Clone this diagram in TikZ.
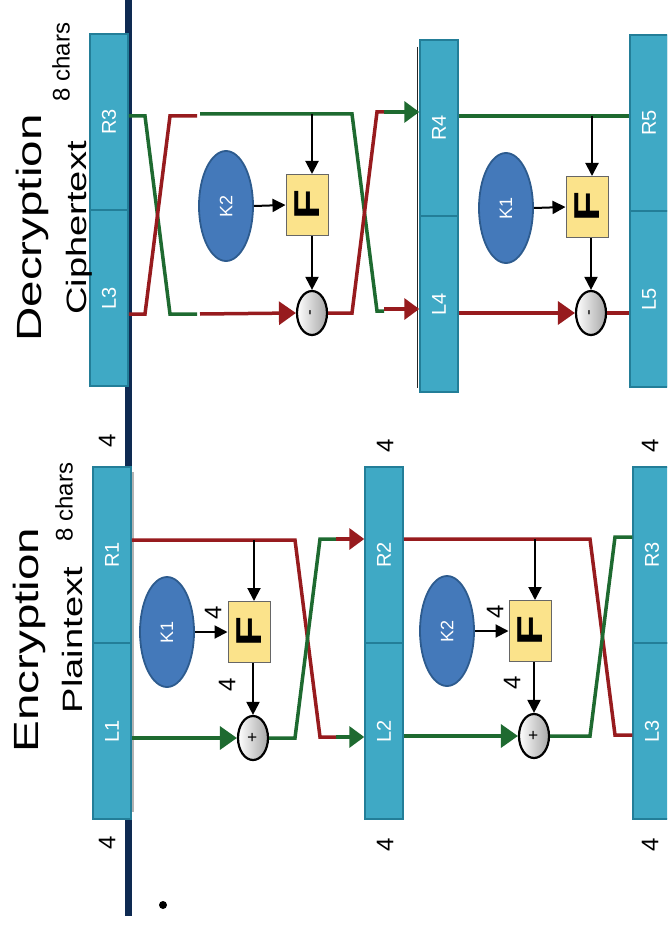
\documentclass[tikz,border=0pt]{standalone}
\usepackage{fontspec}
\setmainfont{Liberation Sans}
\usetikzlibrary{arrows.meta,shapes.geometric}

\definecolor{boxfill}{HTML}{3FA9C5}
\definecolor{boxedge}{HTML}{237E98}
\definecolor{keyfill}{HTML}{4479BA}
\definecolor{keyedge}{HTML}{2D5B8E}
\definecolor{fyellow}{HTML}{FBE38B}
\definecolor{fred}{HTML}{971B1E}
\definecolor{fgreen}{HTML}{1E6A30}
\definecolor{navy}{HTML}{0E2A52}

\newcommand{\rottxt}[1]{\rotatebox{90}{#1}}
\newcommand{\rotwide}[1]{\rotatebox{90}{\scalebox{1.36}[1]{#1}}}

\begin{document}
\begin{tikzpicture}[x=1pt,y=-1pt]
   \tikzstyle{half}=[draw=boxedge,fill=boxfill,line width=1.5pt,minimum width=38pt,minimum height=176pt,inner sep=0pt,text=white,font=\fontsize{20}{23}\selectfont]
   \tikzstyle{key}=[ellipse,draw=keyedge,fill=keyfill,line width=1.8pt,minimum width=54pt,minimum height=110pt,inner sep=0pt,text=white,font=\fontsize{18}{21}\selectfont]
   \tikzstyle{fbox}=[draw=black!60,fill=fyellow,line width=1pt,minimum width=42pt,minimum height=61pt,inner sep=0pt,font=\fontsize{36}{40}\selectfont\bfseries]
   \tikzstyle{mix}=[ellipse,draw=black,line width=2.2pt,minimum width=30pt,minimum height=44pt,inner sep=0pt,left color=white,right color=black!35,font=\fontsize{17}{19}\selectfont]
   \tikzstyle{num}=[inner sep=0pt,font=\fontsize{24}{28}\selectfont]
   \tikzstyle{rd}=[draw=fred,line width=3.5pt]
   \tikzstyle{grn}=[draw=fgreen,line width=3.5pt]
   \tikzstyle{into}=[-{Triangle[length=15pt,width=21pt]}]
   \tikzstyle{tocirc}=[-{Triangle[length=17pt,width=23pt]}]
   \tikzstyle{blk}=[draw=black,line width=2pt,-{Triangle[length=13pt,width=13pt]}]

   \clip (0,0) rectangle (667,925);
   \fill[white] (0,0) rectangle (667,925);

   % slide separator and bullet
   \draw[navy,line width=7pt] (128,0) -- (128,916);
   \fill (163,905) circle[radius=4];

   % blocks
   \node[half] (r3d) at (109,122) {\rottxt{R3}};
   \node[half] (l3d) at (109,298) {\rottxt{L3}};
   \draw[black!85,line width=0.8pt] (417,47) -- (417,388);
   \node[half] (r4) at (439,128) {\rottxt{R4}};
   \node[half] (l4) at (439,304) {\rottxt{L4}};
   \node[half] (r5) at (649,123) {\rottxt{R5}};
   \node[half] (l5) at (649,299) {\rottxt{L5}};
   \fill[black!30] (131,472) rectangle (134,812);
   \node[half] (r1) at (112,555) {\rottxt{R1}};
   \node[half] (l1) at (112,731) {\rottxt{L1}};
   \node[half] (r2) at (384,555) {\rottxt{R2}};
   \node[half] (l2) at (384,731) {\rottxt{L2}};
   \node[half] (r3e) at (652,555) {\rottxt{R3}};
   \node[half] (l3e) at (652,731) {\rottxt{L3}};

   % headings
   \node[inner sep=0pt,font=\fontsize{35}{40}\selectfont] (dectitle) at (32,228) {\rotwide{Decryption}};
   \node[inner sep=0pt,font=\fontsize{28}{32}\selectfont] (ciph) at (79,228) {\rotwide{Ciphertext}};
   \node[num] (dchars) at (61,62) {\rottxt{8 chars}};
   \node[inner sep=0pt,font=\fontsize{35}{40}\selectfont] (enctitle) at (29,640) {\rotwide{Encryption}};
   \node[inner sep=0pt,font=\fontsize{28}{32}\selectfont] (plain) at (72,640) {\rotwide{Plaintext}};
   \node[num] (echars) at (64,502) {\rottxt{8 chars}};

   % sizes
   \node[num] (s1) at (107,441) {\rottxt{4}};
   \node[num] (s2) at (107,843) {\rottxt{4}};
   \node[num] (s3) at (385,446) {\rottxt{4}};
   \node[num] (s4) at (385,845) {\rottxt{4}};
   \node[num] (s5) at (650,446) {\rottxt{4}};
   \node[num] (s6) at (650,845) {\rottxt{4}};

   % decryption, round with K2
   \node[key] (k2d) at (226,206) {\rottxt{K2}};
   \node[fbox] (fd1) at (307,205) {\rotwide{F}};
   \node[mix] (md1) at (312,313) {\rottxt{-}};
   \coordinate (d1t) at (312,114);
   \draw[grn] (r3d.east |- 0,116) -- (145,116) -- (170,314) -- (197,314);
   \draw[rd] (l3d.east |- 0,314) -- (145,314) -- (170,116) -- (197,116);
   \draw[grn] (200,114) -- (352,114) -- (377,311) -- (384,311);
   \draw[rd,tocirc] (200,314) -- (md1.west);
   \draw[rd] (md1.east) -- (352,313) -- (377,112) -- (384,112);
   \draw[grn,into] (384,112) -- (r4.west |- 0,112);
   \draw[rd,into] (384,309) -- (l4.west |- 0,309);
   \draw[blk] (d1t) -- (d1t |- fd1.north);
   \draw[blk] (k2d.east) -- (fd1.west);
   \draw[blk] (fd1.south -| md1) -- (md1.north);

   % decryption, round with K1
   \node[key] (k1d) at (506,208) {\rottxt{K1}};
   \node[fbox] (fd2) at (587,207) {\rotwide{F}};
   \node[mix] (md2) at (591,313) {\rottxt{-}};
   \coordinate (d2t) at (592,116);
   \draw[grn] (r4.east |- 0,116) -- (r5.west |- 0,116);
   \draw[blk] (d2t) -- (d2t |- fd2.north);
   \draw[blk] (k1d.east) -- (fd2.west);
   \draw[blk] (fd2.south -| md2) -- (md2.north);
   \draw[rd,tocirc] (l4.east |- md2) -- (md2.west);
   \draw[rd] (md2.east) -- (l5.west |- md2);

   % encryption, round with K1
   \node[key] (k1) at (167,632) {\rottxt{K1}};
   \node[fbox] (fe1) at (249,632) {\rotwide{F}};
   \node[mix] (xe1) at (253,738) {\rottxt{+}};
   \node[num] (w1) at (213,613) {\rottxt{4}};
   \node[num] (w2) at (227,685) {\rottxt{4}};
   \coordinate (e1t) at (254,540);
   \draw[rd] (r1.east |- 0,540) -- (295,540) -- (320,737) -- (336,737);
   \draw[grn,tocirc] (l1.east |- xe1) -- (xe1.west);
   \draw[grn] (xe1.east) -- (295,738) -- (320,539) -- (336,539);
   \draw[rd,into] (336,539) -- (r2.west |- 0,539);
   \draw[grn,into] (336,737) -- (l2.west |- 0,737);
   \draw[blk] (e1t) -- (e1t |- fe1.north);
   \draw[blk] (k1.east) -- (fe1.west);
   \draw[blk] (fe1.south -| xe1) -- (xe1.north);

   % encryption, round with K2
   \node[key] (k2) at (447,631) {\rottxt{K2}};
   \node[fbox] (fe2) at (530,631) {\rotwide{F}};
   \node[mix] (xe2) at (534,736) {\rottxt{+}};
   \node[num] (w3) at (495,612) {\rottxt{4}};
   \node[num] (w4) at (512,683) {\rottxt{4}};
   \coordinate (e2t) at (535,539);
   \draw[rd] (r2.east |- 0,539) -- (590,539) -- (615,735) -- (r3e.west |- 0,735);
   \draw[grn,tocirc] (l2.east |- xe2) -- (xe2.west);
   \draw[grn] (xe2.east) -- (590,736) -- (615,537) -- (r3e.west |- 0,537);
   \draw[blk] (e2t) -- (e2t |- fe2.north);
   \draw[blk] (k2.east) -- (fe2.west);
   \draw[blk] (fe2.south -| xe2) -- (xe2.north);
\end{tikzpicture}
\end{document}
